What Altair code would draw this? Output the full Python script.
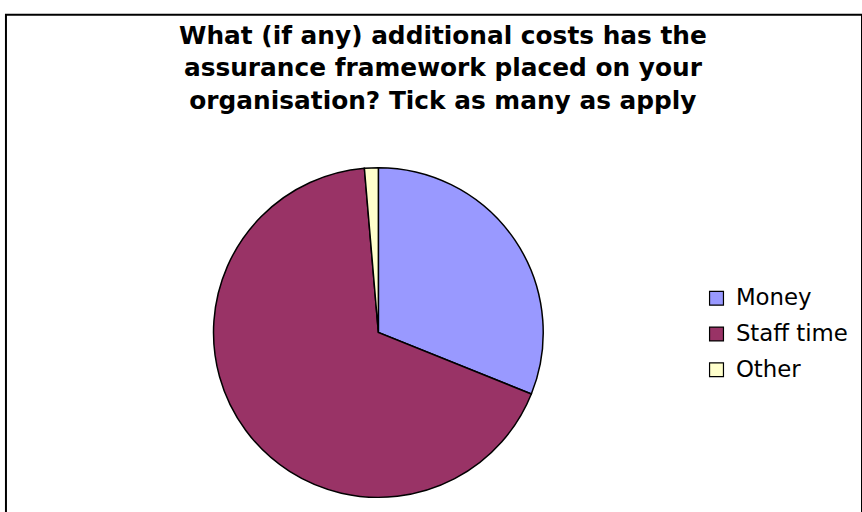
import altair as alt
import pandas as pd

categories = ["Money", "Staff time", "Other"]
values = [23, 50, 1]
colors = ["#9999FF", "#993366", "#FFFFCC"]
title_lines = [
    "What (if any) additional costs has the",
    "assurance framework placed on your",
    "organisation? Tick as many as apply",
]

df = pd.DataFrame({"category": categories, "value": values, "idx": list(range(len(categories)))})

pie = alt.Chart(df).mark_arc(stroke="black", strokeWidth=1.5, radius=166).encode(
    theta=alt.Theta("value:Q", stack=True),
    order=alt.Order("idx:O"),
    color=alt.Color(
        "category:N",
        sort=categories,
        scale=alt.Scale(domain=categories, range=colors),
        legend=alt.Legend(
            title=None,
            orient="none",
            legendX=704,
            legendY=274,
            symbolType="square",
            symbolSize=196,
            symbolStrokeColor="black",
            symbolStrokeWidth=1.2,
            labelFont="DejaVu Sans",
            labelFontSize=23,
            labelColor="black",
            rowPadding=12,
            labelOffset=8,
        ),
    ),
    x=alt.value(375),
    y=alt.value(320),
)

chart = pie.properties(
    width=862,
    height=512,
    autosize=alt.AutoSizeParams(type="none"),
    padding={"left": 6, "top": 13, "right": 0, "bottom": 0},
    title=alt.TitleParams(
        text=title_lines,
        orient="top",
        anchor="middle",
        baseline="middle",
        offset=-112,
        dx=9,
        font="DejaVu Sans",
        fontSize=25,
        fontWeight="bold",
        lineHeight=33,
        color="black",
    ),
).configure_view(stroke="black", strokeWidth=2)

chart.save("out.html", embed_options={"renderer": "svg", "actions": False})
